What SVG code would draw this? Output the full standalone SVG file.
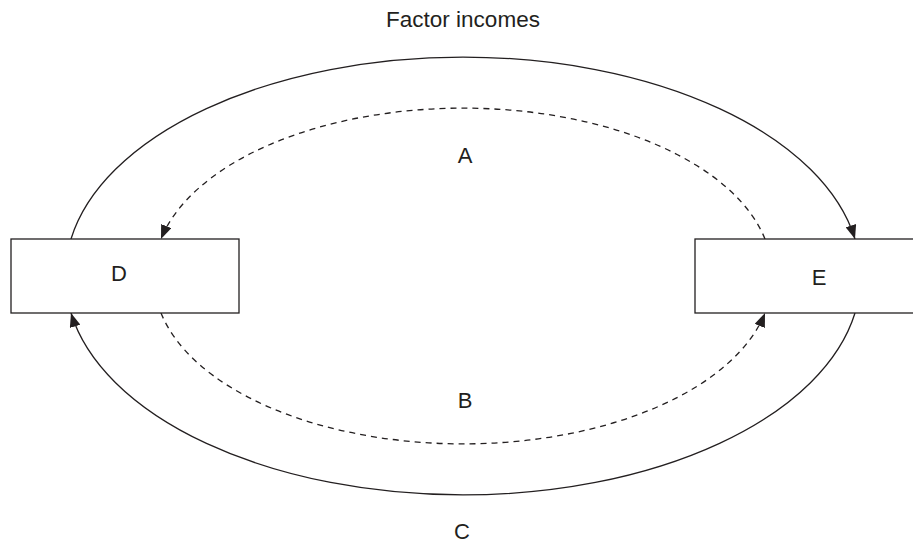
<svg xmlns="http://www.w3.org/2000/svg" width="913" height="543" viewBox="0 0 913 543">
<style>
text{font-family:"Liberation Sans",Arial,sans-serif;font-size:22px;fill:#231f20;text-anchor:middle}
.box{fill:#fff;stroke:#231f20;stroke-width:1.3}
.solid{fill:none;stroke:#231f20;stroke-width:1.3}
.dash{fill:none;stroke:#231f20;stroke-width:1.3;stroke-dasharray:6 5}
</style>
<defs>
<marker id="ah" viewBox="0 0 14 11" refX="14" refY="5.5" markerWidth="14" markerHeight="11" markerUnits="userSpaceOnUse" orient="auto">
<path d="M0,0 L14,5.5 L0,11 Z" fill="#231f20"/>
</marker>
</defs>
<rect width="913" height="543" fill="#fff"/>
<g id="connectors">
<path class="solid" d="M71,239 A397.6,218.5 0 0 1 855,239" marker-end="url(#ah)"/>
<path class="solid" d="M855,313 A397.6,218.5 0 0 1 71,313" marker-end="url(#ah)"/>
<path class="dash" d="M765,239 A309,166 0 0 0 161,239" marker-end="url(#ah)"/>
<path class="dash" d="M161,313 A309,166 0 0 0 765,313" marker-end="url(#ah)"/>
</g>
<g id="D">
<rect class="box" x="11" y="239" width="228" height="74"/>
<text x="119" y="281">D</text>
</g>
<g id="E">
<rect class="box" x="695" y="239" width="230" height="74"/>
<text x="819" y="285">E</text>
</g>
<g id="labels">
<text x="463" y="27" style="font-size:22.5px">Factor incomes</text>
<text x="465" y="163">A</text>
<text x="465" y="408">B</text>
<text x="462" y="539">C</text>
</g>
</svg>
